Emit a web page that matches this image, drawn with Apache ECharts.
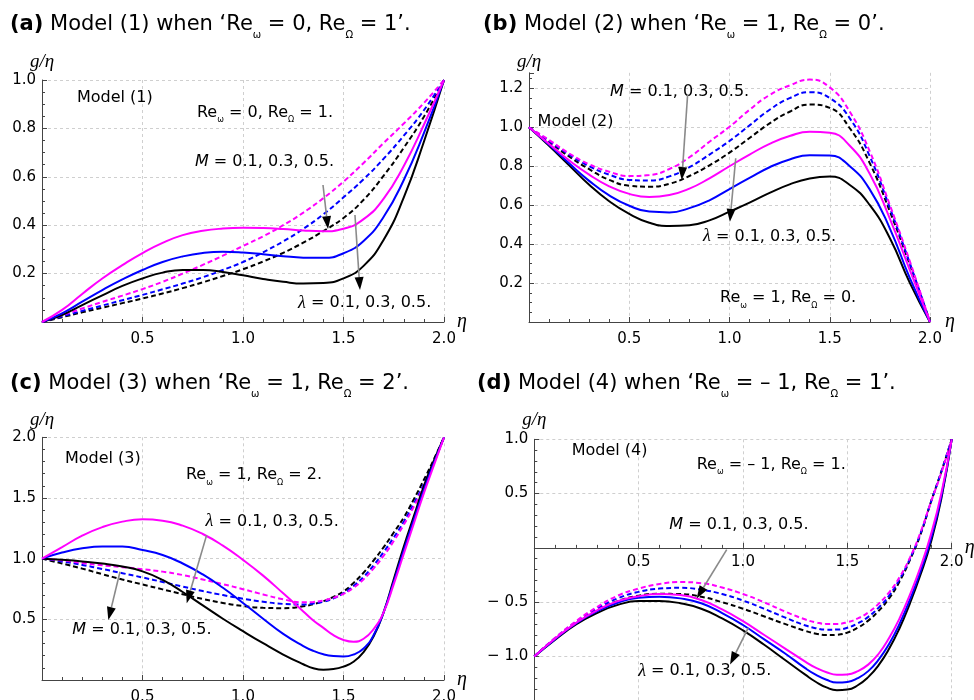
<!DOCTYPE html>
<html><head><meta charset="utf-8">
<script src="https://cdn.jsdelivr.net/npm/echarts@6/dist/echarts.min.js"></script>
<style>html,body{margin:0;padding:0;background:#fff}#c{width:974px;height:700px}</style>
</head><body><div id="c"></div>
<script>
// eta samples: panels (a),(b) every 0.1; panels (c),(d) every 0.1 up to 1.3 then every 0.05
const etaAB = [0,0.1,0.2,0.3,0.4,0.5,0.6,0.7,0.8,0.9,1.0,1.1,1.2,1.3,1.4,1.5,1.6,1.7,1.8,1.9,2.0];
const etaCD = [0,0.1,0.2,0.3,0.4,0.5,0.6,0.7,0.8,0.9,1.0,1.1,1.2,1.3,1.35,1.4,1.45,1.5,1.55,1.6,1.65,1.7,1.75,1.8,1.85,1.9,1.95,2.0];
// eta tick labels drawn on the zero line of panel (d)
const etaTicks = [0.5, 1.0, 1.5, 2.0];

// Panel (a) Model (1): solid = lambda 0.1/0.3/0.5, dashed = M 0.1/0.3/0.5
const aLam1 = [0,0.05,0.116,0.18,0.235,0.285,0.327,0.359,0.377,0.386,0.389,0.388,0.384,0.378,0.375,0.385,0.425,0.51,0.645,0.815,1.0];
const aLam3 = [0,0.036,0.084,0.132,0.176,0.215,0.248,0.271,0.285,0.29,0.287,0.28,0.272,0.266,0.265,0.284,0.335,0.435,0.587,0.78,1.0];
const aLam5 = [0,0.029,0.07,0.11,0.149,0.18,0.204,0.215,0.215,0.207,0.193,0.178,0.166,0.159,0.161,0.18,0.232,0.34,0.515,0.745,1.0];
const aM1 = [0,0.028,0.056,0.083,0.109,0.136,0.166,0.2,0.236,0.274,0.314,0.354,0.4,0.452,0.512,0.58,0.657,0.74,0.82,0.905,1.0];
const aM3 = [0,0.023,0.046,0.068,0.09,0.112,0.135,0.159,0.185,0.215,0.248,0.288,0.333,0.385,0.445,0.515,0.59,0.675,0.77,0.875,1.0];
const aM5 = [0,0.02,0.04,0.059,0.078,0.097,0.118,0.14,0.164,0.19,0.218,0.25,0.286,0.328,0.376,0.43,0.505,0.605,0.72,0.848,1.0];

// Panel (b) Model (2)
const bLam1 = [1.0,0.915,0.83,0.757,0.697,0.658,0.642,0.652,0.685,0.738,0.8,0.86,0.915,0.955,0.977,0.972,0.905,0.76,0.53,0.265,0];
const bLam3 = [1.0,0.91,0.815,0.725,0.65,0.597,0.567,0.563,0.585,0.625,0.683,0.74,0.795,0.835,0.856,0.855,0.80,0.68,0.48,0.224,0];
const bLam5 = [1.0,0.905,0.805,0.705,0.62,0.555,0.51,0.493,0.497,0.522,0.567,0.613,0.663,0.707,0.737,0.747,0.704,0.60,0.43,0.2,0];
const bM1 = [1.0,0.935,0.866,0.81,0.772,0.75,0.755,0.786,0.846,0.926,1.003,1.09,1.166,1.215,1.245,1.205,1.08,0.875,0.6,0.31,0];
const bM3 = [1.0,0.93,0.86,0.8,0.757,0.73,0.727,0.748,0.795,0.86,0.93,1.01,1.09,1.15,1.18,1.15,1.046,0.85,0.585,0.3,0];
const bM5 = [1.0,0.925,0.85,0.785,0.73,0.7,0.695,0.71,0.75,0.805,0.87,0.945,1.02,1.08,1.117,1.1,0.995,0.815,0.567,0.293,0];

// Panel (c) Model (3)  (values at etaCD)
const cLam1 = [1.0,1.095,1.19,1.26,1.305,1.324,1.313,1.272,1.203,1.107,0.99,0.86,0.714,0.565,0.49,0.43,0.37,0.33,0.315,0.34,0.42,0.56,0.79,1.04,1.29,1.54,1.77,2.0];
const cLam3 = [1.0,1.05,1.085,1.1,1.1,1.071,1.03,0.96,0.87,0.76,0.635,0.505,0.38,0.28,0.24,0.212,0.197,0.193,0.21,0.26,0.37,0.56,0.81,1.07,1.32,1.565,1.79,2.0];
const cLam5 = [1.0,0.99,0.977,0.96,0.935,0.895,0.825,0.725,0.615,0.505,0.402,0.303,0.21,0.13,0.097,0.085,0.09,0.11,0.15,0.23,0.36,0.56,0.83,1.1,1.35,1.6,1.81,2.0];
const cM1 = [1.0,0.986,0.964,0.945,0.93,0.913,0.893,0.865,0.828,0.79,0.748,0.705,0.665,0.64,0.643,0.655,0.677,0.71,0.76,0.83,0.92,1.025,1.145,1.28,1.43,1.6,1.79,2.0];
const cM3 = [1.0,0.977,0.948,0.915,0.88,0.845,0.808,0.77,0.733,0.7,0.67,0.645,0.627,0.622,0.63,0.645,0.672,0.715,0.775,0.85,0.945,1.055,1.175,1.305,1.455,1.615,1.8,2.0];
const cM5 = [1.0,0.96,0.918,0.872,0.828,0.787,0.747,0.707,0.668,0.635,0.61,0.595,0.592,0.607,0.625,0.65,0.685,0.73,0.8,0.885,0.985,1.095,1.215,1.34,1.49,1.65,1.82,2.0];

// Panel (d) Model (4)  (values at etaCD)
const dLam1 = [-1.0,-0.835,-0.69,-0.575,-0.49,-0.445,-0.425,-0.435,-0.48,-0.567,-0.675,-0.8,-0.925,-1.05,-1.105,-1.145,-1.168,-1.165,-1.135,-1.075,-0.975,-0.83,-0.65,-0.43,-0.18,0.12,0.5,1.0];
const dLam3 = [-1.0,-0.84,-0.695,-0.585,-0.505,-0.46,-0.45,-0.465,-0.51,-0.6,-0.71,-0.84,-0.97,-1.11,-1.17,-1.215,-1.24,-1.235,-1.2,-1.135,-1.03,-0.885,-0.7,-0.475,-0.22,0.08,0.47,1.0];
const dLam5 = [-1.0,-0.845,-0.705,-0.6,-0.525,-0.49,-0.49,-0.51,-0.56,-0.65,-0.76,-0.89,-1.03,-1.17,-1.235,-1.285,-1.31,-1.305,-1.265,-1.19,-1.08,-0.93,-0.74,-0.51,-0.25,0.05,0.45,1.0];
const dM1 = [-1.0,-0.828,-0.675,-0.546,-0.44,-0.375,-0.332,-0.315,-0.325,-0.365,-0.425,-0.5,-0.585,-0.66,-0.686,-0.7,-0.7,-0.685,-0.65,-0.595,-0.515,-0.41,-0.27,-0.09,0.14,0.42,0.69,1.0];
const dM3 = [-1.0,-0.83,-0.68,-0.56,-0.465,-0.405,-0.375,-0.368,-0.385,-0.425,-0.485,-0.56,-0.64,-0.715,-0.74,-0.753,-0.752,-0.735,-0.695,-0.635,-0.55,-0.44,-0.29,-0.1,0.13,0.42,0.7,1.0];
const dM5 = [-1.0,-0.835,-0.69,-0.575,-0.49,-0.44,-0.423,-0.425,-0.45,-0.5,-0.56,-0.63,-0.7,-0.765,-0.79,-0.803,-0.8,-0.78,-0.735,-0.67,-0.58,-0.465,-0.31,-0.11,0.12,0.42,0.7,1.0];

// Axis ranges / ticks per panel (panel d: interval chosen by ECharts, ticks at multiples of 0.5)
const yMin = [0, 0, 0, -1.4];
const yMax = [1.0, 1.28, 2.0, 1.0];
const yStep = [0.2, 0.2, 0.5, null];
const yMinor = [4, 4, 5, 5];

const titles = [
  '{b|(a)} Model (1) when \u2018Re{s|\u03c9} = 0, Re{s|\u03a9} = 1\u2019.',
  '{b|(b)} Model (2) when \u2018Re{s|\u03c9} = 1, Re{s|\u03a9} = 0\u2019.',
  '{b|(c)} Model (3) when \u2018Re{s|\u03c9} = 1, Re{s|\u03a9} = 2\u2019.',
  '{b|(d)} Model (4) when \u2018Re{s|\u03c9} = \u2013 1, Re{s|\u03a9} = 1\u2019.'
];

// annotation texts in data coordinates [panel, eta, value, text]
const notes = [
  [0, 0.174, 0.926, 'Model (1)'],
  [0, 0.771, 0.864, 'Re{s|\u03c9} = 0, Re{s|\u03a9} = 1.'],
  [0, 0.761, 0.661, '{i|M} = 0.1, 0.3, 0.5.'],
  [0, 1.274, 0.079, '{l|\u03bb} = 0.1, 0.3, 0.5.'],
  [1, 0.043, 1.029, 'Model (2)'],
  [1, 0.404, 1.183, '{i|M} = 0.1, 0.3, 0.5.'],
  [1, 0.868, 0.438, '{l|\u03bb} = 0.1, 0.3, 0.5.'],
  [1, 0.953, 0.123, 'Re{s|\u03c9} = 1, Re{s|\u03a9} = 0.'],
  [2, 0.114, 1.826, 'Model (3)'],
  [2, 0.716, 1.689, 'Re{s|\u03c9} = 1, Re{s|\u03a9} = 2.'],
  [2, 0.814, 1.304, '{l|\u03bb} = 0.1, 0.3, 0.5.'],
  [2, 0.151, 0.412, '{i|M} = 0.1, 0.3, 0.5.'],
  [3, 0.179, 0.89, 'Model (4)'],
  [3, 0.778, 0.767, 'Re{s|\u03c9} = \u2013 1, Re{s|\u03a9} = 1.'],
  [3, 0.647, 0.215, '{i|M} = 0.1, 0.3, 0.5.'],
  [3, 0.498, -1.136, '{l|\u03bb} = 0.1, 0.3, 0.5.']
];

// arrows in data coordinates [panel, eta1, v1, eta2, v2]
const arrows = [
  [0, 1.398, 0.566, 1.423, 0.384],
  [0, 1.557, 0.442, 1.582, 0.132],
  [1, 0.791, 1.166, 0.762, 0.729],
  [1, 1.031, 0.841, 1.002, 0.515],
  [2, 0.819, 1.194, 0.72, 0.632],
  [2, 0.388, 0.892, 0.33, 0.494],
  [3, 0.922, -0.016, 0.778, -0.467],
  [3, 1.025, -0.737, 0.938, -1.075]
];

const panels = [
  {x: etaAB, lam:[aLam1,aLam3,aLam5], m:[aM1,aM3,aM5]},
  {x: etaAB, lam:[bLam1,bLam3,bLam5], m:[bM1,bM3,bM5]},
  {x: etaCD, lam:[cLam1,cLam3,cLam5], m:[cM1,cM3,cM5]},
  {x: etaCD, lam:[dLam1,dLam3,dLam5], m:[dM1,dM3,dM5]}
];
const colors = ['#ff00ff', '#0000ff', '#000000'];

const wideBounds = {left: -200, top: -200, right: -200, bottom: -200};
const grids = [
  {left: 42, top: 80, width: 402, height: 242, outerBounds: wideBounds},
  {left: 529, top: 72.8, width: 401, height: 249.2, outerBounds: wideBounds},
  {left: 42, top: 437.3, width: 402, height: 242.7, outerBounds: wideBounds},
  {left: 534.3, top: 439.3, width: 417.4, height: 260.6, outerBounds: wideBounds}
];
const titlePos = [[10, 9], [483, 9], [10, 368], [477, 368]];
const yNameGap = [9, 1, 8, 10];
const xNameGap = [13, 15, 13, 13];

const SANS = 'DejaVu Sans';
const axisColor = '#444';

function fmt(v) {
  if (Math.abs(v) < 1e-9) return '';
  return v < 0 ? '\u2212 ' + Math.abs(v).toFixed(1) : v.toFixed(1);
}

const xAxes = [], yAxes = [], series = [], titleOpts = [];
for (let g = 0; g < 4; g++) {
  xAxes.push({
    type: 'value', gridIndex: g, min: 0, max: 2, interval: 0.5,
    name: '\u03b7', nameLocation: 'end', nameGap: xNameGap[g],
    nameTextStyle: {fontFamily: 'Liberation Serif', fontStyle: 'italic', fontSize: 20, color: '#000'},
    axisLine: {onZero: true, lineStyle: {color: axisColor, width: 1}},
    axisTick: {inside: true, length: 5, lineStyle: {color: axisColor}},
    minorTick: {show: true, splitNumber: 5, length: 3, lineStyle: {color: axisColor}},
    splitLine: {show: true, lineStyle: {color: '#cfcfcf', type: [3, 3], width: 1}},
    axisLabel: {show: g !== 3, fontFamily: SANS, fontSize: 15, color: '#000', margin: 10, formatter: fmt}
  });
  const ya = {
    type: 'value', gridIndex: g, min: yMin[g], max: yMax[g],
    name: 'g/\u03b7', nameLocation: 'end', nameGap: yNameGap[g],
    nameTextStyle: {fontFamily: 'Liberation Serif', fontStyle: 'italic', fontSize: 19, color: '#000'},
    axisLine: {onZero: false, lineStyle: {color: axisColor, width: 1}},
    axisTick: {inside: true, length: 5, lineStyle: {color: axisColor}},
    minorTick: {show: true, splitNumber: yMinor[g], length: 3, lineStyle: {color: axisColor}},
    splitLine: {show: true, showMaxLine: g !== 1, showMinLine: g !== 3, lineStyle: {color: '#cfcfcf', type: [3, 3], width: 1}},
    axisLabel: {fontFamily: SANS, fontSize: 15, color: '#000', margin: 6, formatter: fmt,
      showMaxLabel: g !== 1, showMinLabel: g !== 3}
  };
  if (yStep[g]) ya.interval = yStep[g];
  yAxes.push(ya);
  const p = panels[g];
  const order = [2, 1, 0];
  order.forEach(k => {
    series.push({
      type: 'line', xAxisIndex: g, yAxisIndex: g, smooth: 0.5, showSymbol: false, silent: true,
      lineStyle: {color: colors[k], width: 2, type: [5, 3]},
      data: p.x.map((x, i) => [x, p.m[k][i]])
    });
  });
  order.forEach(k => {
    series.push({
      type: 'line', xAxisIndex: g, yAxisIndex: g, smooth: 0.5, showSymbol: false, silent: true,
      lineStyle: {color: colors[k], width: 2},
      data: p.x.map((x, i) => [x, p.lam[k][i]])
    });
  });
  titleOpts.push({
    text: titles[g], left: titlePos[g][0], top: titlePos[g][1], padding: 0,
    textStyle: {
      fontFamily: SANS, fontSize: 21, fontWeight: 'normal', color: '#000',
      rich: {
        b: {fontFamily: SANS, fontSize: 21, fontWeight: 'bold', color: '#000'},
        s: {fontFamily: SANS, fontSize: 10, color: '#000', padding: [21, 0, 0, 0]}
      }
    }
  });
}

const option = {
  animation: false,
  backgroundColor: '#fff',
  title: titleOpts,
  grid: grids,
  xAxis: xAxes,
  yAxis: yAxes,
  series: series
};

const chart = echarts.init(document.getElementById('c'));
chart.setOption(option);

const richNote = {
  s: {fontFamily: SANS, fontSize: 8, fill: '#000', padding: [15, 0, 0, 0]},
  i: {fontFamily: SANS, fontSize: 16, fontStyle: 'italic', fill: '#000'},
  l: {fontFamily: 'Liberation Serif', fontSize: 18, fontStyle: 'italic', fill: '#000'}
};
const els = [];
notes.forEach(n => {
  const p = chart.convertToPixel({gridIndex: n[0]}, [n[1], n[2]]);
  els.push({
    type: 'text', x: p[0], y: p[1], z: 100,
    style: {legacy: false, text: n[3], fontFamily: SANS, fontSize: 16, fill: '#000',
      align: 'left', verticalAlign: 'middle', rich: richNote}
  });
});
// panel (d) eta tick labels under the zero line
etaTicks.forEach(t => {
  const p = chart.convertToPixel({gridIndex: 3}, [t, 0]);
  els.push({
    type: 'text', x: p[0], y: p[1] + 14, z: 100,
    style: {legacy: false, text: t.toFixed(1), fontFamily: SANS, fontSize: 15, fill: '#000',
      align: 'center', verticalAlign: 'middle'}
  });
});
arrows.forEach(a => {
  const p1 = chart.convertToPixel({gridIndex: a[0]}, [a[1], a[2]]);
  const p2 = chart.convertToPixel({gridIndex: a[0]}, [a[3], a[4]]);
  const dx = p2[0] - p1[0], dy = p2[1] - p1[1];
  const L = Math.sqrt(dx * dx + dy * dy);
  const ux = dx / L, uy = dy / L;
  const hl = 13, hw = 4.5;
  const bx = p2[0] - ux * hl, by = p2[1] - uy * hl;
  els.push({type: 'line', z: 101, shape: {x1: p1[0], y1: p1[1], x2: bx, y2: by},
    style: {stroke: '#8a8a8a', lineWidth: 1.6}});
  els.push({type: 'polygon', z: 102, shape: {points: [
      [p2[0], p2[1]], [bx - uy * hw, by + ux * hw], [bx + uy * hw, by - ux * hw]]},
    style: {fill: '#000'}});
});
chart.setOption({graphic: els});
</script>
</body></html>
